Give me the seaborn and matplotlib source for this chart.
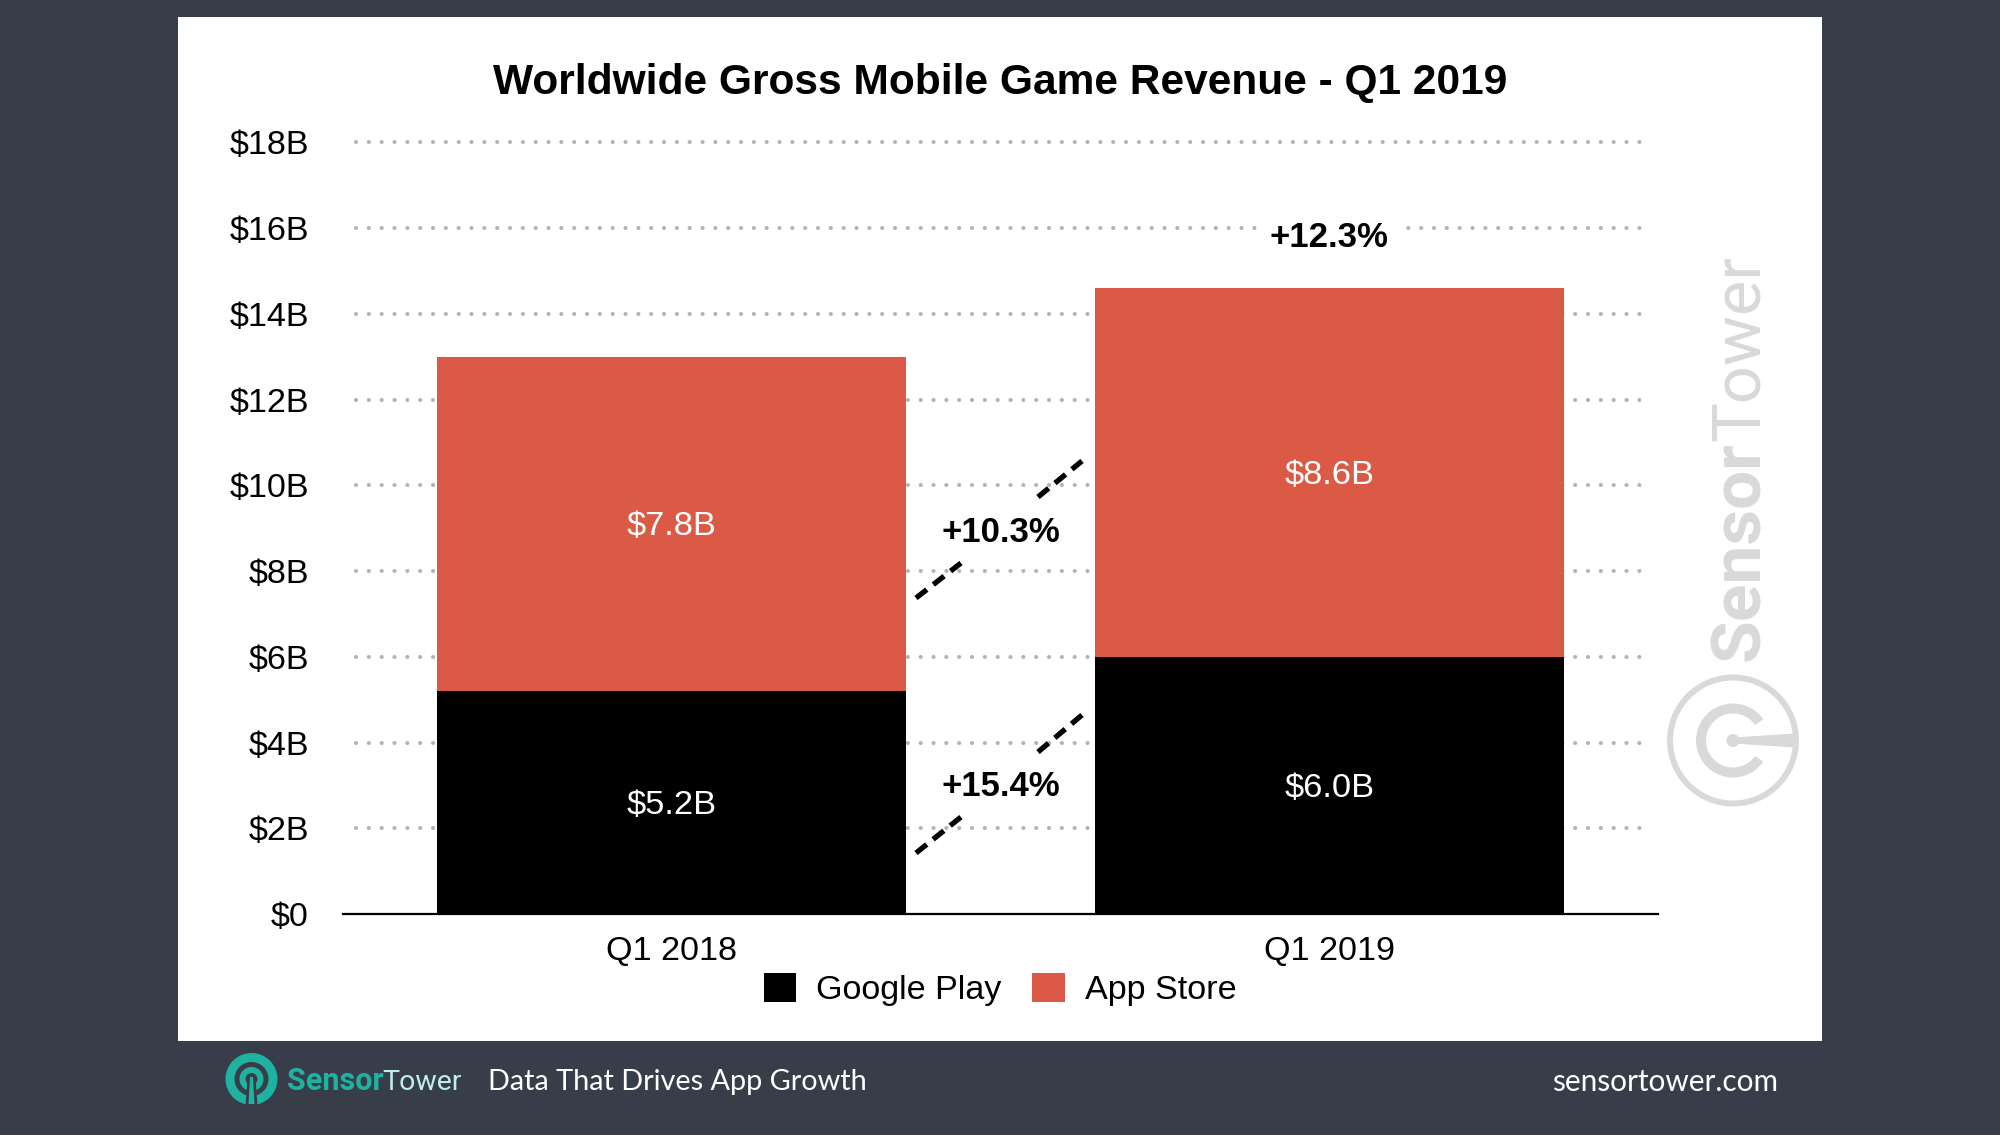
import matplotlib
matplotlib.use("Agg")
import matplotlib.pyplot as plt
import seaborn as sns
from matplotlib.lines import Line2D
from matplotlib.patches import Circle, Polygon, Wedge, Rectangle

quarters = ["Q1 2018", "Q1 2019"]
google_play = [5.2, 6.0]
app_store = [7.8, 8.6]
google_labels = ["$5.2B", "$6.0B"]
app_labels = ["$7.8B", "$8.6B"]
y_ticks = [0, 2, 4, 6, 8, 10, 12, 14, 16, 18]
y_tick_labels = ["$0", "$2B", "$4B", "$6B", "$8B", "$10B", "$12B", "$14B", "$16B", "$18B"]
total_growth = "+12.3%"
store_growth = "+10.3%"
play_growth = "+15.4%"

W, H = 2000, 1135
BG = "#373D49"
RED = "#DB5A46"
TEAL = "#1FB2A0"
WM = "#D9D9D9"
MAIN = "Liberation Sans"

sns.set_style("white")
plt.rcParams["font.family"] = MAIN
plt.rcParams["text.color"] = "black"
fig = plt.figure(figsize=(W / 100, H / 100), dpi=100, facecolor=BG)

# pixel-space backdrop
bg = fig.add_axes([0, 0, 1, 1], zorder=0)
bg.set_xlim(0, W)
bg.set_ylim(H, 0)
bg.axis("off")
bg.add_patch(Rectangle((177.5, 17), 1644, 1024, fc="white", ec="none"))

# watermark
bg.text(1759, 661, "Sensor", rotation=90, rotation_mode="anchor", ha="left", va="baseline",
        family="Roboto", fontweight="bold", fontsize=50, color=WM)
bg.text(1759, 441, "Tower", rotation=90, rotation_mode="anchor", ha="left", va="baseline",
        family="Roboto", fontsize=48, color=WM)
cx, cy = 1733, 740.5
bg.add_patch(Wedge((cx, cy), 66, 0, 360, width=6, fc=WM, ec="none"))
bg.add_patch(Wedge((cx, cy), 37, 35, 325, width=10, fc=WM, ec="none"))
bg.add_patch(Circle((cx, cy), 6.5, fc=WM, ec="none"))
bg.add_patch(Polygon([(cx, cy - 3), (cx + 62, cy - 7), (cx + 62, cy + 7), (cx, cy + 3)], fc=WM, ec="none"))

# footer
lx, ly = 251.5, 1079
bg.add_patch(Circle((lx, ly), 26, fc=TEAL, ec="none"))
bg.add_patch(Circle((lx, ly), 17, fc=BG, ec="none"))
bg.add_patch(Circle((lx, ly), 12, fc=TEAL, ec="none"))
bg.add_patch(Circle((lx, ly), 6, fc=BG, ec="none"))
bg.add_patch(Polygon([(lx - 4, ly), (lx + 4, ly), (lx + 6, ly + 26), (lx - 6, ly + 26)], fc=BG, ec="none", lw=0))
bg.add_patch(Polygon([(lx - 1.5, ly - 2), (lx + 1.5, ly - 2), (lx + 3, ly + 25), (lx - 3, ly + 25)], fc=TEAL, ec="none"))
bg.text(287, 1090, "Sensor", family="Roboto", fontweight="bold", fontsize=22, color=TEAL, va="baseline")
bg.text(382, 1090, "Tower", family="Roboto", fontsize=20.5, color="#BFEFE8", va="baseline")
bg.text(488, 1090, "Data That Drives App Growth", family="Lato", fontsize=20.8, color="white", va="baseline")
bg.text(1778, 1091, "sensortower.com", family="Lato", fontsize=21.4, color="white", ha="right", va="baseline")

# main axes
ax = fig.add_axes([343 / W, (H - 914) / H, 1315 / W, 771.6 / H], zorder=1)
ax.patch.set_alpha(0)
sns.barplot(x=quarters, y=google_play, color="black", width=0.714, saturation=1, label="Google Play",
            ax=ax, zorder=3, linewidth=0, edgecolor="none")
sns.barplot(x=quarters, y=app_store, bottom=google_play, color=RED, width=0.714, saturation=1, label="App Store",
            ax=ax, zorder=3, linewidth=0, edgecolor="none")
ax.set_xlim(-0.5, 1.5)
ax.set_ylim(0, 18)
ax.set_yticks(y_ticks, y_tick_labels)
ax.tick_params(axis="both", length=0, labelsize=24.6, colors="black")
ax.tick_params(axis="y", pad=24.5)
ax.tick_params(axis="x", pad=16)
sns.despine(ax=ax, left=True)
ax.spines["bottom"].set_linewidth(1.6)
ax.spines["bottom"].set_color("black")
ax.spines["bottom"].set_zorder(5)

ax.hlines(y_ticks[1:], 13 / 1315, 1 - 7 / 1315, transform=ax.get_yaxis_transform(), colors="#B4B4B4",
          linewidth=3, linestyles=[(0, (0.01, 3.07))], capstyle="round", zorder=1, clip_on=False)

ax.bar_label(ax.containers[0], labels=google_labels, label_type="center", color="white", fontsize=24.8, padding=-2)
ax.bar_label(ax.containers[1], labels=app_labels, label_type="center", color="white", fontsize=24.8, padding=-2)

ax.text(1, 15.77, total_growth, ha="center", va="center", fontsize=25, fontweight="bold", zorder=4,
        bbox=dict(fc="white", ec="none", pad=8))
ax.text(0.5, 8.89, store_growth, ha="center", va="center", fontsize=25, fontweight="bold", zorder=4)
ax.text(0.5, 2.97, play_growth, ha="center", va="center", fontsize=25, fontweight="bold", zorder=4)

# growth connectors, pixel space
for (x0, y0, x1, y1) in [(916, 598, 961, 563), (1038, 497, 1082, 461),
                         (916, 853, 961, 817), (1038, 752, 1082, 715)]:
    fig.add_artist(Line2D([x0, x1], [y0, y1], transform=bg.transData, color="black", lw=3.8,
                          linestyle=(0, (2.6, 1.55)), dash_capstyle="butt", zorder=6))

handles, labels = ax.get_legend_handles_labels()
leg = ax.legend(handles, labels, ncol=2, frameon=False, fontsize=24.6, handlelength=0.94, handleheight=0.94,
                handletextpad=0.59, columnspacing=0.91, loc="center", borderpad=0, borderaxespad=0,
                bbox_to_anchor=(1000 / W, (H - 989.5) / H), bbox_transform=fig.transFigure)
for t in leg.get_texts():
    t.set_color("black")

fig.text(1000 / W, (H - 83) / H, "Worldwide Gross Mobile Game Revenue - Q1 2019", ha="center", va="center",
         fontsize=30.6, fontweight="bold", color="black")

fig.savefig("out.png", dpi=100, facecolor=BG)
